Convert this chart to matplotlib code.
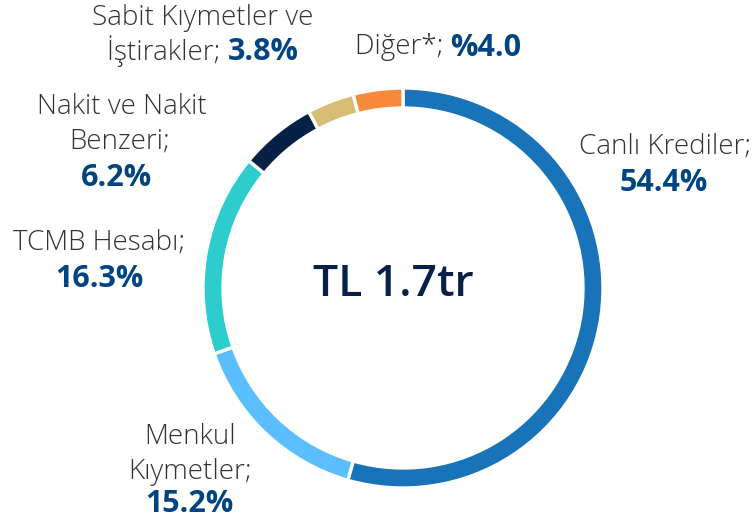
import matplotlib
matplotlib.use("Agg")
import matplotlib.pyplot as plt

categories = ["Canlı Krediler", "Menkul Kıymetler", "TCMB Hesabı",
              "Nakit ve Nakit Benzeri", "Sabit Kıymetler ve İştirakler", "Diğer*"]
values = [54.4, 15.2, 16.3, 6.2, 3.8, 4.0]
value_labels = ["54.4%", "15.2%", "16.3%", "6.2%", "3.8%", "%4.0"]
colors = ["#1973B8", "#5BBEFF", "#2DCCCD", "#072146", "#D8BE75", "#F7893B"]
center_text = "TL 1.7tr"

W, H = 754, 522
fig = plt.figure(figsize=(W / 100, H / 100), dpi=100)
ax = fig.add_axes([0, 0, 1, 1])

cx, cy, R = 403, 288, 200
ax.pie(values, colors=colors, startangle=-90, counterclock=True,
       center=(cx, cy), radius=R,
       wedgeprops=dict(width=20, edgecolor="white", linewidth=2.4))
ax.set_xlim(0, W)
ax.set_ylim(H, 0)
ax.set_aspect("equal")
ax.axis("off")

FAM = ["Open Sans", "DejaVu Sans"]
LC = "#333333"
VC = "#004481"
FS = 20
VFS = 22


def light(x, y, s, ha="center"):
    return ax.text(x, y, s, ha=ha, va="center", fontsize=FS, color=LC,
                   family=FAM, fontweight="light")


def bold(x, y, s, ha="center"):
    return ax.text(x, y, s, ha=ha, va="center", fontsize=VFS, color=VC,
                   family=FAM, fontweight="bold")


combos = []


def light_bold(xc, y, s1, s2):
    t1 = light(0, y, s1 + " ", ha="left")
    t2 = bold(0, y + 1, s2, ha="left")
    combos.append((xc, t1, t2))


# Canlı Krediler
light(665, 147, "Canlı Krediler;")
bold(664, 183, value_labels[0])
# Menkul Kıymetler
light(190, 437, "Menkul")
light(190, 472, "Kıymetler;")
bold(189, 504, value_labels[1])
# TCMB
light(99, 243, "TCMB Hesabı;")
bold(99, 279, value_labels[2])
# Nakit
light(122, 107, "Nakit ve Nakit")
light(120, 142, "Benzeri;")
bold(117, 178, value_labels[3])
# Sabit
light(203, 18, "Sabit Kıymetler ve")
light_bold(203, 51, "İştirakler;", value_labels[4])
# Diğer
light_bold(438, 47, "Diğer*;", value_labels[5])

ax.text(393, 284, center_text, ha="center", va="center", fontsize=32,
        color="#072146", family=FAM, fontweight="semibold")

fig.canvas.draw()
r = fig.canvas.get_renderer()
for xc, t1, t2 in combos:
    w1 = t1.get_window_extent(r).width
    w2 = t2.get_window_extent(r).width
    x0 = xc - (w1 + w2) / 2
    t1.set_x(x0)
    t2.set_x(x0 + w1)

fig.savefig("out.png", dpi=100)
